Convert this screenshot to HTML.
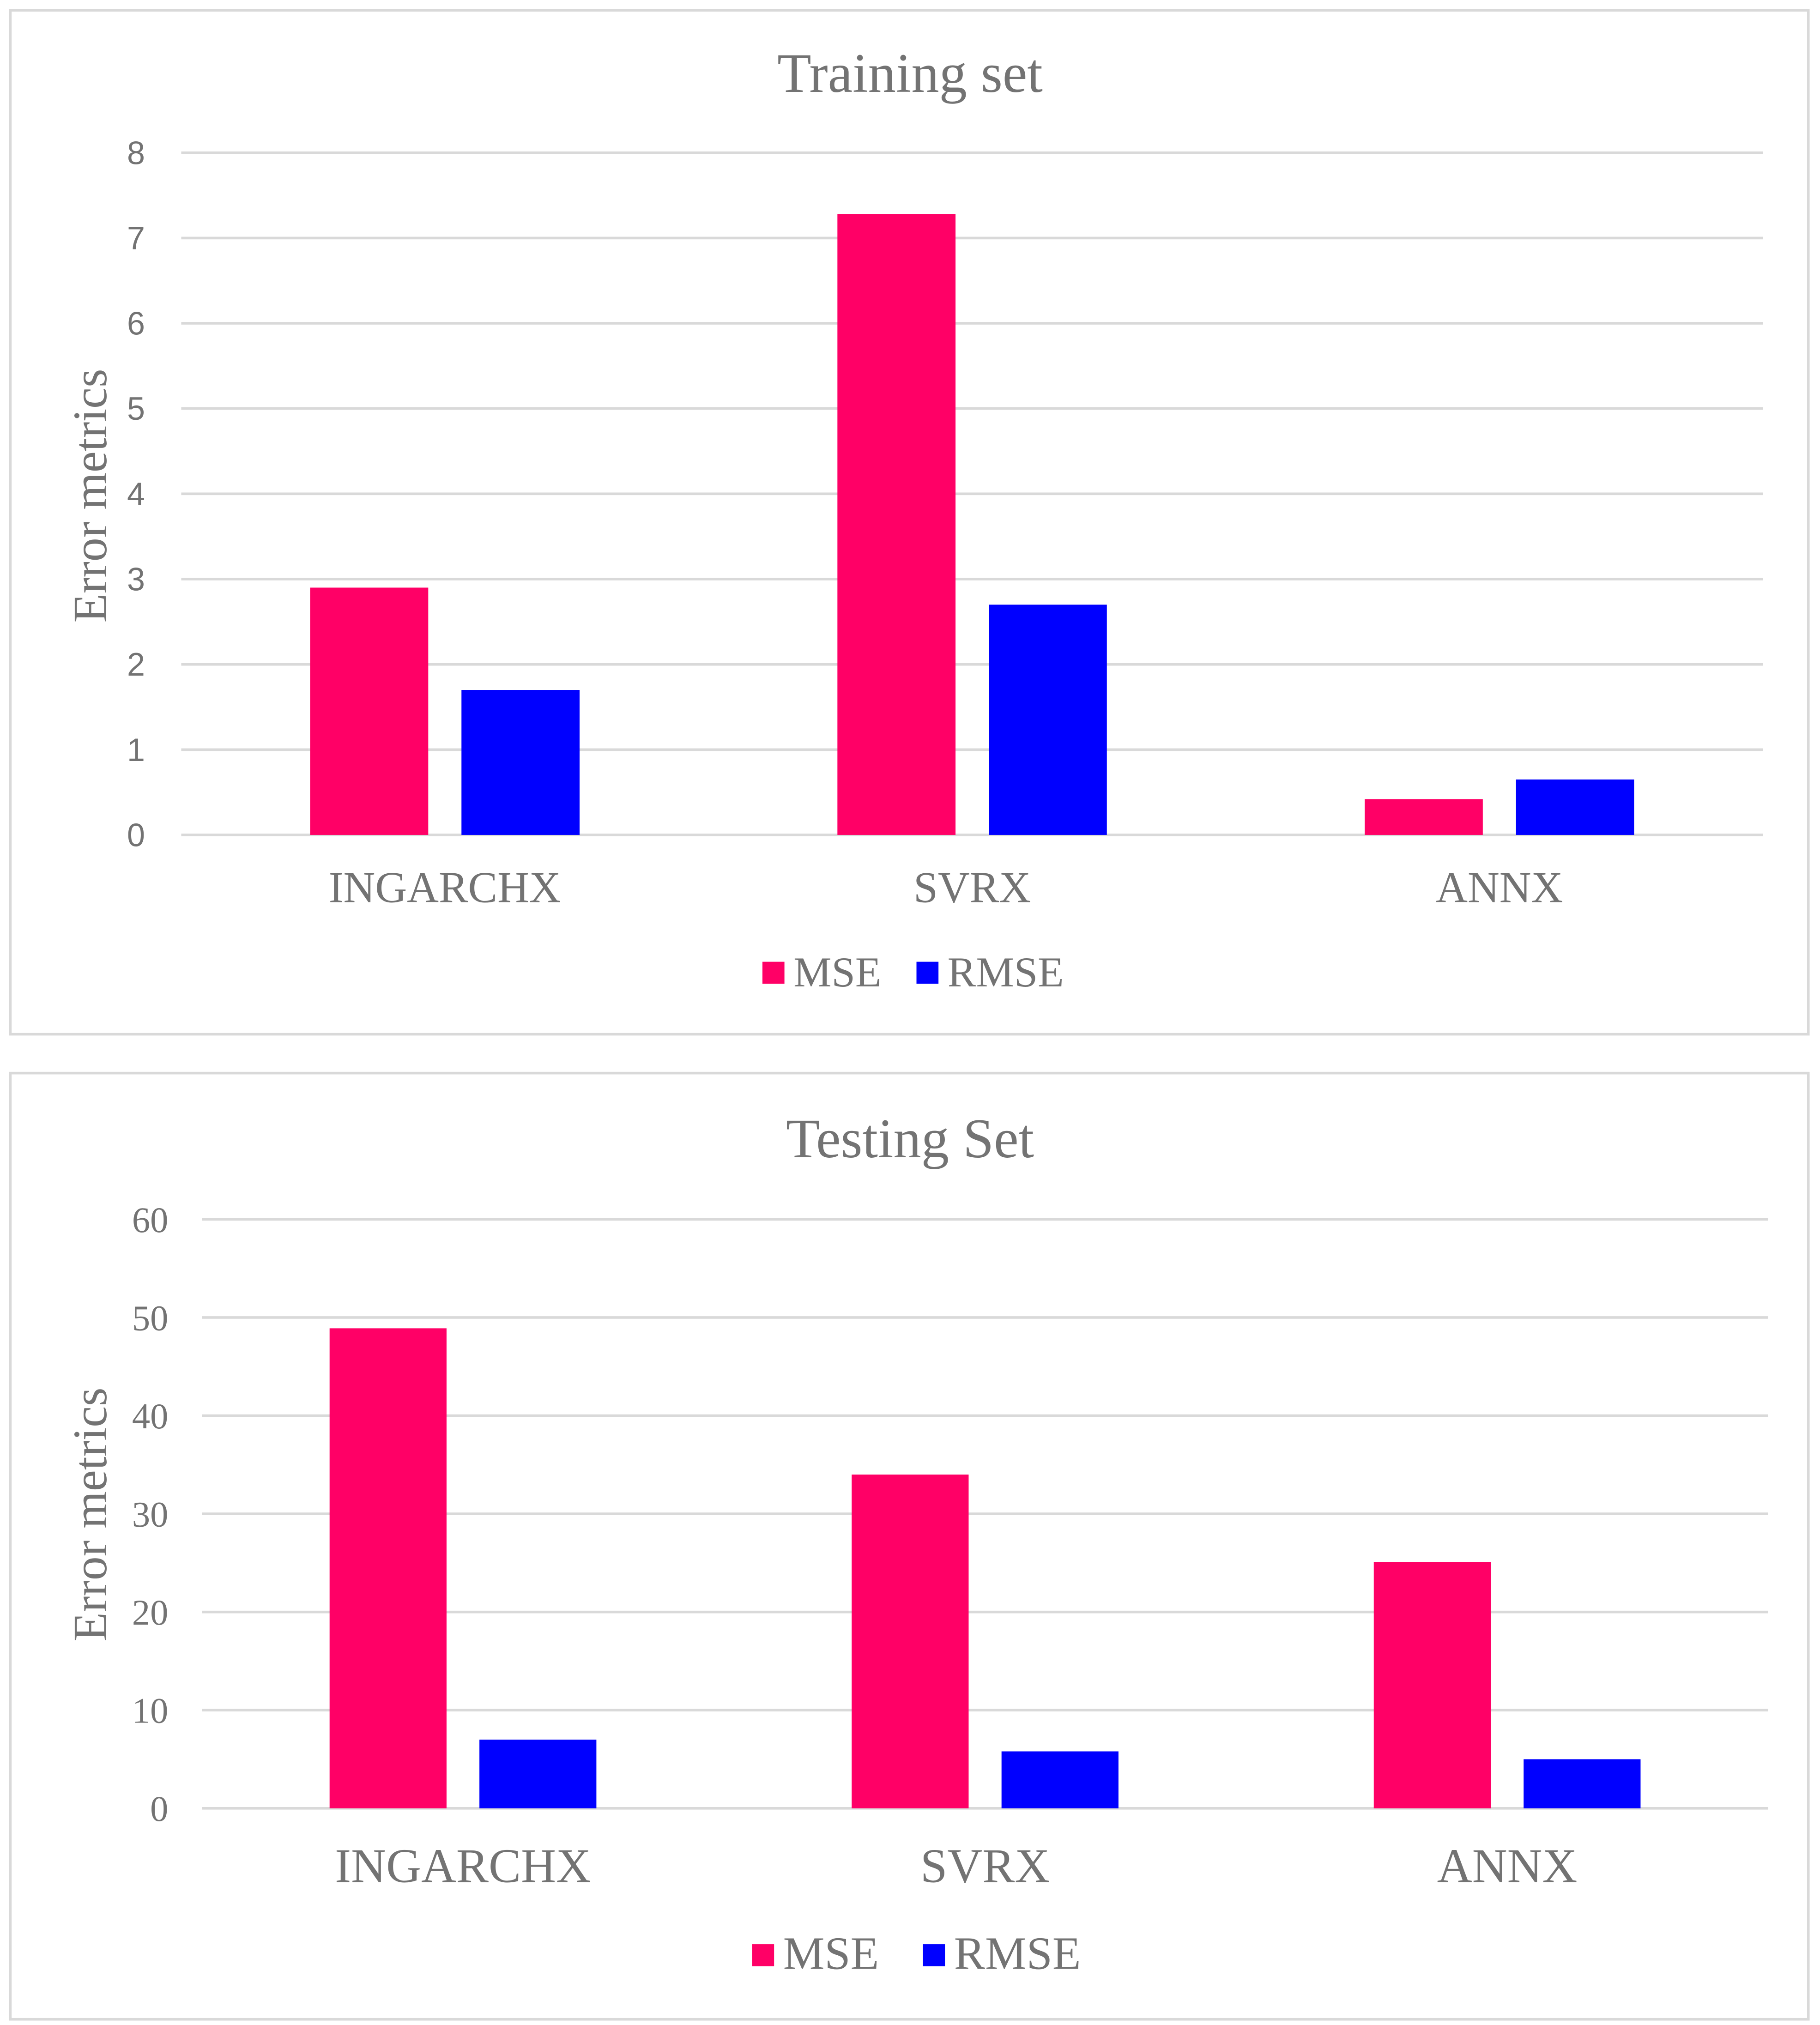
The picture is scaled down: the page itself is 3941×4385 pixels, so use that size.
<!DOCTYPE html>
<html><head><meta charset="utf-8"><style>
html,body{margin:0;padding:0;background:#fff;}
svg{display:block;}
text{fill:#737373;}
.serif{font-family:"Liberation Serif",serif;}
.sans{font-family:"Liberation Sans",sans-serif;}
</style></head>
<body>
<svg id="root" width="3941" height="4385" viewBox="0 0 1406 1564.4" xmlns="http://www.w3.org/2000/svg">
<rect x="8" y="8" width="1389" height="791" fill="#fff" stroke="#d9d9d9" stroke-width="2"/>
<rect x="8" y="829" width="1389" height="731" fill="#fff" stroke="#d9d9d9" stroke-width="2"/>
<g id="top"></g>
<g id="bot"></g>
</svg>
<script>
const categories = ["INGARCHX", "SVRX", "ANNX"];
const seriesNames = ["MSE", "RMSE"];
const trainMSE = [2.9, 7.28, 0.42];
const trainRMSE = [1.7, 2.7, 0.65];
const trainTicks = [0, 1, 2, 3, 4, 5, 6, 7, 8];
const testMSE = [48.9, 34.0, 25.1];
const testRMSE = [7.0, 5.8, 5.0];
const testTicks = [0, 10, 20, 30, 40, 50, 60];
const colors = ["#FF0066", "#0000FF"];
const NS = "http://www.w3.org/2000/svg";
function mk(parent, tag, attrs, txt) {
  const e = document.createElementNS(NS, tag);
  for (const k in attrs) e.setAttribute(k, attrs[k]);
  if (txt !== undefined) e.textContent = txt;
  parent.appendChild(e);
  return e;
}
function draw(g, cfg) {
  const yScale = v => cfg.y0 - (v - cfg.ticks[0]) / (cfg.ticks[cfg.ticks.length - 1] - cfg.ticks[0]) * (cfg.y0 - cfg.yTop);
  const cw = (cfg.x1 - cfg.x0) / categories.length;
  const xBand = i => cfg.x0 + i * cw;
  cfg.ticks.forEach(t => {
    const y = yScale(t);
    const ln = mk(g, "line", {x1: cfg.x0, x2: cfg.x1, y1: y, y2: y, stroke: "#d9d9d9", "stroke-width": 2});
    
    
    const tx = mk(g, "text", {x: cfg.tickX, y: y + cfg.tickFs * 0.35, "text-anchor": "end", "font-size": cfg.tickFs, class: cfg.tickClass}, String(t));
    
    
  });
  const bw = cw * 0.224, gap = cw * 0.063;
  [cfg.mse, cfg.rmse].forEach((arr, s) => {
    arr.forEach((v, i) => {
      const x = xBand(i) + cw / 2 - gap / 2 - bw + s * (bw + gap);
      const y = yScale(v);
      const r = mk(g, "rect", {x: x, y: y, width: bw, height: yScale(0) - y, fill: colors[s]});
      
      
    });
  });
  categories.forEach((c, i) => {
    const t = mk(g, "text", {x: xBand(i) + cw / 2, y: cfg.catY, "text-anchor": "middle", "font-size": cfg.catFs, class: "serif"}, c);
    
    
  });
  const title = mk(g, "text", {x: 703, y: cfg.titleY, "text-anchor": "middle", "font-size": 43, class: "serif"}, cfg.title);
  
  
  const yt = mk(g, "text", {x: 0, y: 0, "text-anchor": "middle", "font-size": 37, class: "serif", transform: "translate(82," + cfg.yTitleY + ") rotate(-90)"}, "Error metrics");
  
  
  seriesNames.forEach((n, s) => {
    const lx = cfg.legX[s];
    const m = mk(g, "rect", {x: lx, y: cfg.legY - cfg.legSq, width: cfg.legSq, height: cfg.legSq, fill: colors[s]});
    
    
    const t = mk(g, "text", {x: lx + cfg.legSq + 7, y: cfg.legY + 2, "font-size": cfg.legFs, class: "serif"}, n);
    
    
  });
}
draw(document.getElementById("top"), {
  x0: 140, x1: 1362, y0: 645, yTop: 118, ticks: trainTicks, mse: trainMSE, rmse: trainRMSE,
  tickX: 112, tickFs: 25, tickClass: "sans", catY: 697, catFs: 34, title: "Training set", titleY: 71,
  yTitleY: 383, legX: [589, 708], legY: 760, legSq: 17, legFs: 33
});
draw(document.getElementById("bot"), {
  x0: 156, x1: 1366, y0: 1397, yTop: 942, ticks: testTicks, mse: testMSE, rmse: testRMSE,
  tickX: 130, tickFs: 28, tickClass: "serif", catY: 1454, catFs: 37.5, title: "Testing Set", titleY: 894,
  yTitleY: 1170, legX: [581, 713], legY: 1519, legSq: 17, legFs: 36
});
</script>
</body></html>
